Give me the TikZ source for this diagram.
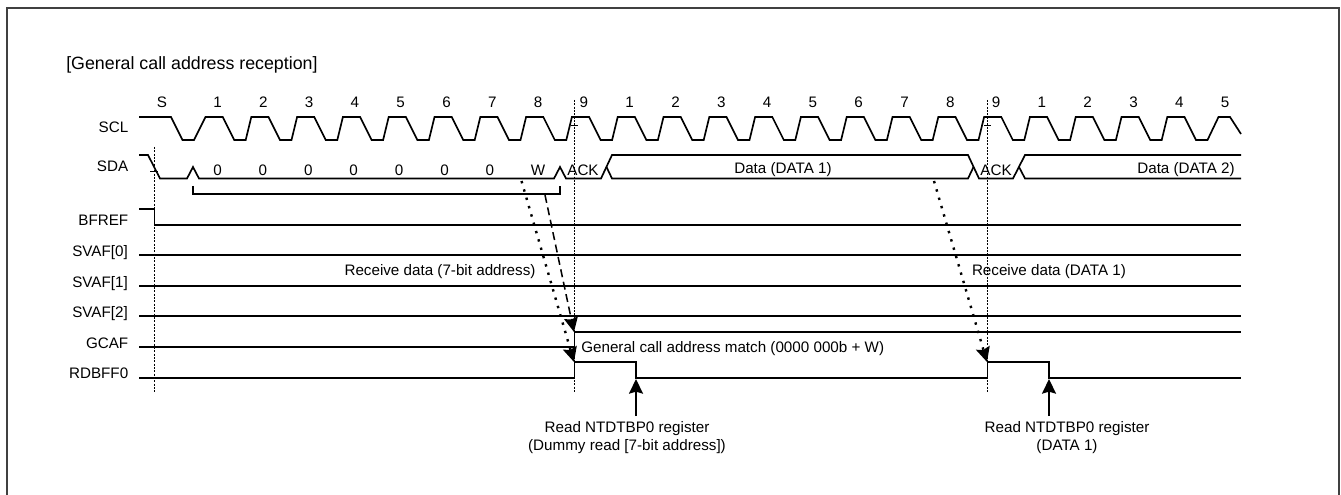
\documentclass[tikz,border=0pt]{standalone}
\usepackage{fontspec}
\setmainfont{Liberation Sans}
\usetikzlibrary{arrows.meta}

\tikzset{
    sig/.style={line width=1.25pt,black,line join=miter},
    guide/.style={line width=0.5pt,black,dash pattern=on 1.5pt off 1pt},
    txt/.style={inner sep=0pt,anchor=base,font=\fontsize{11.4pt}{14pt}\selectfont},
    signame/.style={txt,anchor=base east},
    arrowed/.style={-{Stealth[length=11pt,width=10.5pt,inset=1.5pt]}}
}

\begin{document}
\begin{tikzpicture}[x=0.75pt,y=-0.75pt]
    \useasboundingbox (0,0) rectangle (1341,495);
    \draw[line width=1.5pt,black!75] (7,495)--(7,8)--(1339,8)--(1339,495);
    \node[txt,anchor=base west,font=\fontsize{13.35pt}{16pt}\selectfont] (title) at (66,70) {[General call address reception]};

    % signal names
    \node[signame] (nscl) at (128.5,133) {SCL};
    \node[signame] (nsda) at (128.5,171.5) {SDA};
    \node[signame] (nbfref) at (128.5,225.5) {BFREF};
    \node[signame] (nsvaf0) at (128,256.5) {SVAF[0]};
    \node[signame] (nsvaf1) at (128,287) {SVAF[1]};
    \node[signame] (nsvaf2) at (128,317.5) {SVAF[2]};
    \node[signame] (ngcaf) at (128.5,348) {GCAF};
    \node[signame] (nrdbff) at (128.5,378) {RDBFF0};

    % guides at start and 9th clocks
    \draw[guide] (154.5,147)--(154.5,392);
    \draw[guide] (574.5,100)--(574.5,392);
    \draw[guide] (987.5,100)--(987.5,392);
    \draw[line width=0.5pt] (150,171)--(158,171) (571,125)--(578,125) (984,125)--(991,125);

    % SCL
    \draw[sig] (139,117)--(171,117)--(182.5,140)--(194,140)
        \foreach \i in {0,...,21} {
            --({205.5+45.8*\i},117)--({217+45.8*\i+5.7},117)--({217+45.8*\i+17.2},140)--({217+45.8*\i+28.7},140)
        }
        --(1218.5,117)--(1230,117)--(1241,134);
    \node[txt] (cs) at (162,107.5) {S};
    \foreach \i/\t in {0/1,1/2,2/3,3/4,4/5,5/6,6/7,7/8,8/9,9/1,10/2,11/3,12/4,13/5,14/6,15/7,16/8,17/9,18/1,19/2,20/3,21/4,22/5}
        \node[txt] (c\i) at ({217.5+45.8*\i},107.5) {\t};

    % SDA
    \draw[sig] (139,155)--(148,155)--(160,178.5)--(187,178.5)--(193,167)--(199,178.5)--(554,178.5)--(560,167)--(566,178.5)--(601,178.5)--(612,155)--(968,155)--(979,178.5)--(1013,178.5)--(1025,155)--(1241,155);
    \draw[sig] (606.5,167)--(612,178.5)--(968,178.5)--(973.5,167);
    \draw[sig] (1019,167)--(1025,178.5)--(1241,178.5);
    \draw[sig] (193,186)--(193,194)--(560,194)--(560,186);
    \foreach \i in {0,...,6}
        \node[txt] (z\i) at ({217.5+45.4*\i},175.5) {0};
    \node[txt] (w) at (538,175.5) {W};
    \node[txt] (ack1) at (583,175.5) {ACK};
    \node[txt] (ack2) at (996,175.5) {ACK};
    \node[txt] (data1) at (783,173.5) {Data (DATA 1)};
    \node[txt,anchor=base east] (data2) at (1235,173.5) {Data (DATA 2)};

    % flags
    \draw[sig] (139,209)--(154.5,209)--(154.5,225)--(1241,225);
    \draw[sig] (139,255)--(1241,255);
    \draw[sig] (139,286)--(1241,286);
    \draw[sig] (139,316)--(1241,316);
    \draw[sig] (139,347)--(574.5,347)--(574.5,332)--(1241,332);
    \draw[sig] (139,378)--(574.5,378)--(574.5,362)--(636,362)--(636,378)--(987.5,378)--(987.5,362)--(1049,362)--(1049,378)--(1241,378);
    \node[txt] (rx1) at (440,275) {Receive data (7-bit address)};
    \node[txt] (rx2) at (1049,275) {Receive data (DATA 1)};
    \node[txt,anchor=base west] (match) at (581,352) {General call address match (0000 000b + W)};

    % arrows
    \coordinate (addrend) at (521.5,181);
    \coordinate (wend) at (545,195);
    \coordinate (dataend) at (934,181);
    \coordinate (gcafup) at (574,332);
    \coordinate (rdup1) at (574,362);
    \coordinate (rdup2) at (987,362);
    \coordinate (read1) at (636,416);
    \coordinate (read2) at (1049,416);
    \coordinate (rdlow1) at (636,379);
    \coordinate (rdlow2) at (1049,379);
    \draw[arrowed,line width=1.15pt,dash pattern=on 6pt off 3.5pt] (wend)--(gcafup);
    \draw[arrowed,line width=1.8pt,dash pattern=on 1.8pt off 4.7pt] (addrend)--(rdup1);
    \draw[arrowed,line width=1.8pt,dash pattern=on 1.8pt off 4.7pt] (dataend)--(rdup2);
    \draw[arrowed,line width=1.15pt] (read1)--(rdlow1);
    \draw[arrowed,line width=1.15pt] (read2)--(rdlow2);

    \node[txt] (rd1a) at (627,432) {Read NTDTBP0 register};
    \node[txt] (rd1b) at (627,450.5) {(Dummy read [7-bit address])};
    \node[txt] (rd2a) at (1067,432) {Read NTDTBP0 register};
    \node[txt] (rd2b) at (1067,450.5) {(DATA 1)};
\end{tikzpicture}
\end{document}
